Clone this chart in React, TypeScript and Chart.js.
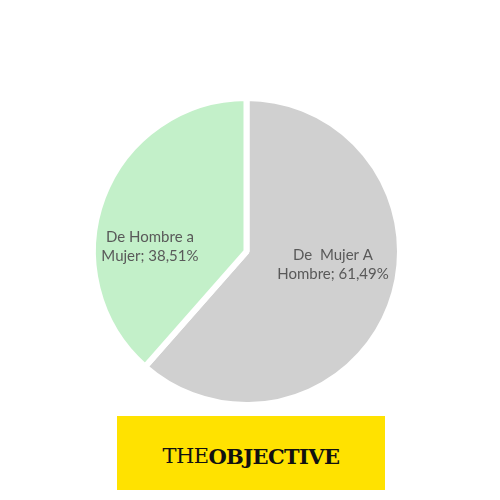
import React, { useEffect, useRef } from "react";
import { Chart, registerables } from "chart.js";

Chart.register(...registerables);

const categories = ["De  Mujer A Hombre", "De Hombre a Mujer"];
const labelLines = [
  ["De  Mujer A", "Hombre; 61,49%"],
  ["De Hombre a", "Mujer; 38,51%"],
];
const values = [61.49, 38.51];
const colors = ["#d0d0d0", "#c3f0c9"];
// label placement: fraction of radius and angle shift (degrees) from slice middle
const labelRadius = [0.57, 0.63];
const labelShift = [-12, -18];

const labelPlugin = {
  id: "sliceLabels",
  afterDatasetsDraw(chart: any) {
    const ctx = chart.ctx;
    const meta = chart.getDatasetMeta(0);
    ctx.save();
    ctx.font = "15px Lato";
    ctx.fillStyle = "#595959";
    ctx.textAlign = "center";
    ctx.textBaseline = "middle";
    meta.data.forEach((arc: any, i: number) => {
      const p = arc.getProps(["x", "y", "startAngle", "endAngle", "outerRadius"], true);
      const mid = (p.startAngle + p.endAngle) / 2 + (labelShift[i] * Math.PI) / 180;
      const r = p.outerRadius * labelRadius[i];
      const cx = p.x + Math.cos(mid) * r;
      const cy = p.y + Math.sin(mid) * r;
      const lines = labelLines[i];
      const lh = 19;
      lines.forEach((t, k) => {
        ctx.fillText(t, cx, cy + (k - (lines.length - 1) / 2) * lh);
      });
    });
    ctx.restore();
  },
};

export default function App() {
  const ref = useRef<HTMLCanvasElement>(null);
  useEffect(() => {
    if (!ref.current) return;
    const chart = new Chart(ref.current, {
      type: "pie",
      data: {
        labels: categories,
        datasets: [
          {
            data: values,
            backgroundColor: colors,
            borderColor: "#ffffff",
            borderWidth: 6,
          },
        ],
      },
      options: {
        responsive: false,
        animation: false,
        layout: { padding: { left: 89, top: 95, right: 96, bottom: 92 } },
        plugins: {
          legend: { display: false },
          tooltip: { enabled: false },
        },
      },
      plugins: [labelPlugin],
    });
    return () => chart.destroy();
  }, []);
  return (
    <div style={{ position: "fixed", left: 0, top: 0, width: 500, height: 500, background: "#fff" }}>
      <canvas ref={ref} width={500} height={500} style={{ position: "absolute", left: 0, top: 0 }} />
      <div
        style={{
          position: "absolute",
          left: 117,
          top: 416,
          width: 268,
          height: 74,
          background: "#ffe200",
          display: "flex",
          alignItems: "center",
          justifyContent: "center",
          paddingTop: 6,
          boxSizing: "border-box",
          fontFamily: "'DejaVu Serif', serif",
          fontSize: 21,
          color: "#111",
          letterSpacing: -0.6,
        }}
      >
        <span style={{ fontWeight: 400 }}>THE</span>
        <span style={{ fontWeight: 900 }}>OBJECTIVE</span>
      </div>
    </div>
  );
}
